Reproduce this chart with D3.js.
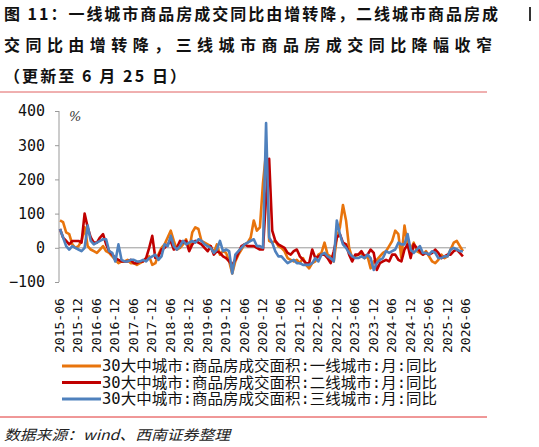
<!DOCTYPE html>
<html><head><meta charset="utf-8">
<script src="https://cdn.jsdelivr.net/npm/d3@7"></script>
<style>body{margin:0;background:#fff}</style>
</head><body>
<svg id="c" width="539" height="447"></svg>
<script>
// 数据：2015-06 起的月度同比（%）
const tickLabels = ['2015-06','2015-12','2016-06','2016-12','2017-06','2017-12','2018-06','2018-12','2019-06','2019-12','2020-06','2020-12','2021-06','2021-12','2022-06','2022-12','2023-06','2023-12','2024-06','2024-12','2025-06','2025-12','2026-06'];
const tier1 = [80,75,45,40,10,0,5,20,60,5,-5,-10,
  -15,-5,5,-10,-15,-25,-35,-45,-40,-40,-35,-45,
  -45,-50,-45,-40,-30,-25,-50,-45,-20,0,10,30,
  50,20,-5,0,10,25,-5,45,60,55,20,15,
  10,5,-15,10,-20,-10,-15,-40,-75,-40,-20,-5,
  10,15,30,80,50,60,190,280,20,15,20,5,
  0,-10,-30,-35,-40,-35,-45,-30,-50,-60,-45,-40,
  -20,-15,15,-20,-25,-40,30,60,125,80,0,-30,
  -25,-20,-15,-30,-25,-60,-40,-35,-25,-15,-10,5,
  20,50,40,-30,65,10,-5,15,-10,-15,-20,-10,
  -25,-40,-45,-35,-20,-30,-25,-5,15,20,5,-10];
const tier2 = [55,30,20,10,20,20,20,15,100,60,30,15,
  15,30,40,10,-10,-20,-30,-35,-40,-40,-40,-35,
  -45,-45,-40,-40,-30,0,35,-30,-25,-5,0,10,
  20,-5,0,20,15,20,-10,10,20,15,10,0,
  -10,5,-20,-10,-15,-25,-30,-40,-50,-35,-15,5,
  10,5,5,5,0,-5,-5,150,260,50,20,10,
  5,0,-15,-20,-10,-5,-25,-35,-45,-45,-5,-30,
  -25,-20,-20,-30,-45,-10,30,40,15,10,-20,-40,
  -20,-20,-10,-25,-20,-5,-15,-65,-45,-40,-35,-40,
  -20,-20,-35,-40,-5,10,-30,10,0,-10,-20,-15,
  -20,-15,-5,-15,-30,-25,-20,-20,-10,-5,-15,-25];
const tier3 = [55,30,5,-5,5,0,-5,-10,0,65,20,10,
  15,20,25,25,-10,-15,-40,10,-35,-40,-40,-35,
  -35,-40,-40,-35,-40,-30,-25,-20,-35,-25,10,5,
  35,5,-5,5,20,10,15,20,15,25,20,10,
  5,0,-15,-5,20,-10,-5,-10,-75,-20,-10,0,
  10,15,20,25,5,5,0,365,30,15,-10,-25,
  -25,-35,-45,-40,-35,-45,-45,-50,-50,-50,-45,-30,
  -40,-20,-15,-25,-30,-40,80,40,10,0,-15,-25,
  -30,-30,-25,-30,-20,-30,-65,-45,-35,-30,-10,-15,
  -10,-5,15,10,10,40,-5,-15,-5,5,-15,-15,
  -20,-10,-15,-30,-30,-25,-25,-5,0,-5,-10,-10];
const seriesNames = ['30大中城市:商品房成交面积:一线城市:月:同比','30大中城市:商品房成交面积:二线城市:月:同比','30大中城市:商品房成交面积:三线城市:月:同比'];
const colors = ['#E8740C','#C00000','#4F81BD'];
const yTicks = [-100,0,100,200,300,400];

const svg = d3.select('#c');
const mono = 'DejaVu Sans Mono, monospace';

// 标题
const title = ['图 11：一线城市商品房成交同比由增转降，二线城市商品房成','交同比由增转降，三线城市商品房成交同比降幅收窄','（更新至 6 月 25 日）'];
const titleLen = [494, 488, 182];
svg.selectAll('text.title').data(title).join('text')
  .attr('x', 4).attr('y', (d, i) => 20 + i * 31)
  .attr('font-family', 'Noto Sans CJK SC').attr('font-weight', 'bold').attr('font-size', 16)
  .attr('textLength', (d, i) => titleLen[i]).attr('lengthAdjust', 'spacing')
  .attr('fill', '#111').text(d => d);
svg.append('rect').attr('x', 529).attr('y', 7).attr('width', 2).attr('height', 14).attr('fill', '#333');

svg.append('line').attr('x1', 0).attr('x2', 487).attr('y1', 92).attr('y2', 92).attr('stroke', '#e06060').attr('stroke-width', 1);
svg.append('line').attr('x1', 0).attr('x2', 487).attr('y1', 417).attr('y2', 417).attr('stroke', '#e03030').attr('stroke-width', 1);

// 刻度
const x = d3.scaleLinear().domain([0, 132]).range([60, 466]);
const y = d3.scaleLinear().domain([-100, 400]).range([282, 111]);

const yAxis = svg.append('g').attr('transform', 'translate(59,0)')
  .call(d3.axisLeft(y).tickValues(yTicks).tickSize(4).tickPadding(10));
yAxis.selectAll('path,line').attr('stroke', '#999');
yAxis.selectAll('text').attr('font-family', mono).attr('font-size', 15).attr('fill', '#111');
yAxis.select('.domain').attr('d', 'M0,111V282');

svg.append('text').attr('x', 69).attr('y', 121).attr('font-family', 'DejaVu Serif').attr('font-style', 'italic')
  .attr('font-size', 13).attr('fill', '#333').text('%');

svg.append('line').attr('x1', 59).attr('x2', 466).attr('y1', y(0)).attr('y2', y(0)).attr('stroke', '#999');

// X 标签
svg.selectAll('text.xl').data(tickLabels).join('text')
  .attr('transform', (d, i) => `translate(${x(i * 6) + 4},353) rotate(-90)`)
  .attr('font-family', mono).attr('font-size', 13).attr('fill', '#111').text(d => d);

// 折线
const line = d3.line().x((d, i) => x(i)).y(d => y(d));
[tier1, tier2, tier3].forEach((s, k) => {
  svg.append('path').datum(s).attr('d', line).attr('fill', 'none')
    .attr('stroke', colors[k]).attr('stroke-width', 2.6).attr('stroke-linejoin', 'round');
});

// 图例
const lg = svg.append('g');
seriesNames.forEach((n, k) => {
  const yy = 366 + k * 16.5;
  lg.append('line').attr('x1', 62).attr('x2', 101).attr('y1', yy).attr('y2', yy).attr('stroke', colors[k]).attr('stroke-width', 3);
  lg.append('text').attr('x', 102).attr('y', yy + 5).attr('font-family', mono + ', Noto Sans CJK SC')
    .attr('font-size', 15).attr('textLength', 335).attr('lengthAdjust', 'spacingAndGlyphs')
    .attr('fill', '#111').text(n);
});

svg.append('text').attr('x', 4).attr('y', 440).attr('font-family', 'Noto Sans CJK SC').attr('font-style', 'italic')
  .attr('font-size', 14).attr('textLength', 226).attr('lengthAdjust', 'spacingAndGlyphs')
  .attr('fill', '#222').text('数据来源：wind、西南证券整理');
</script>
</body></html>
